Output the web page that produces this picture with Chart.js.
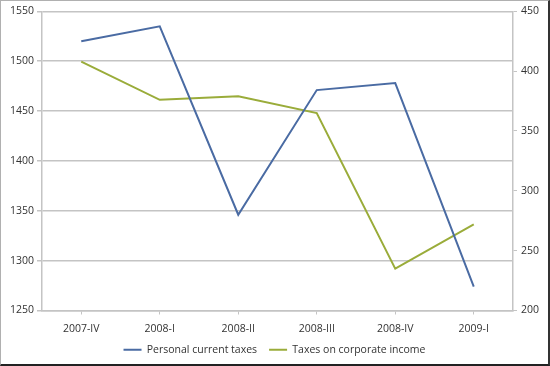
<!DOCTYPE html>
<html>
<head>
<meta charset="utf-8">
<script src="https://cdn.jsdelivr.net/npm/chart.js@4"></script>
<style>
  body { margin: 0; background: #fff; }
  #wrap { width: 550px; height: 366px; box-sizing: border-box; border: 1px solid #b0b0b0; border-right: 2px solid #333; border-bottom: 2px solid #222; }
</style>
</head>
<body>
<div id="wrap"><canvas id="myChart"></canvas></div>
<script>
let quarters = ['2007-IV', '2008-I', '2008-II', '2008-III', '2008-IV', '2009-I'];
let personal = [1520, 1535, 1346, 1471, 1478, 1274];
let corporate = [408, 376, 379, 365, 235, 272];
let leftTicks = [1250, 1300, 1350, 1400, 1450, 1500, 1550];
let rightTicks = [200, 250, 300, 350, 400, 450];

const gridColor = '#c4c4c4';
const font = { family: 'Open Sans', size: 10.5 };

const ctx = document.getElementById('myChart').getContext('2d');

const chart = new Chart(ctx, {
  type: 'line',
  data: {
    labels: quarters,
    datasets: [{
      label: 'Personal current taxes',
      data: personal,
      borderColor: '#4a6ba3',
      backgroundColor: '#4a6ba3',
      borderWidth: 2,
      pointRadius: 0,
      tension: 0,
      yAxisID: 'y'
    },
    {
      label: 'Taxes on corporate income',
      data: corporate,
      borderColor: '#9aac3a',
      backgroundColor: '#9aac3a',
      borderWidth: 2,
      pointRadius: 0,
      tension: 0,
      yAxisID: 'y1'
    }]
  },
  options: {
    responsive: true,
    maintainAspectRatio: false,
    animation: false,
    layout: { padding: { top: 9, bottom: -1 } },
    plugins: {
      tooltip: { enabled: false },
      legend: {
        position: 'bottom',
        labels: {
          usePointStyle: true,
          pointStyle: 'line',
          pointStyleWidth: 18,
          padding: 12,
          color: '#333',
          font: font
        }
      }
    },
    scales: {
      x: {
        offset: true,
        afterFit: s => { s.height = 22; },
        grid: { drawOnChartArea: false, drawTicks: true, tickLength: 4, color: gridColor },
        border: { color: gridColor, width: 1.5 },
        ticks: { color: '#333', font: font, padding: 8, maxRotation: 0 }
      },
      y: {
        position: 'left',
        min: 1250,
        max: 1550,
        afterFit: s => { s.width = 41; },
        afterBuildTicks: s => { s.ticks = leftTicks.map(v => ({ value: v })); },
        grid: { color: gridColor, lineWidth: 1.5, tickLength: 5 },
        border: { color: gridColor, width: 1.5 },
        ticks: { color: '#333', font: font, padding: 3, callback: v => String(v) }
      },
      y1: {
        position: 'right',
        min: 200,
        max: 450,
        afterFit: s => { s.width = 35; },
        afterBuildTicks: s => { s.ticks = rightTicks.map(v => ({ value: v })); },
        grid: { drawOnChartArea: false, color: gridColor, tickLength: 4 },
        border: { color: gridColor, width: 1.5 },
        ticks: { color: '#333', font: font, padding: 4, callback: v => String(v) }
      }
    }
  }
});
</script>
</body>
</html>
